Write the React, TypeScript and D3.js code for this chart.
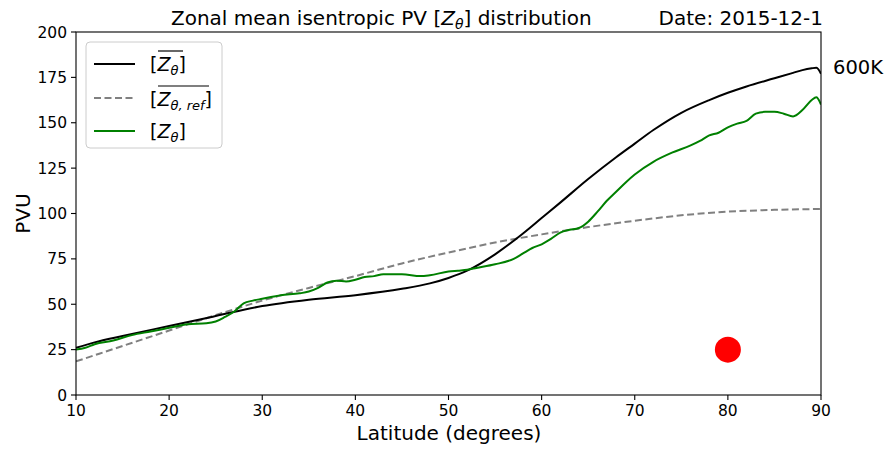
import React from "react";
import * as d3 from "d3";

const latMean = [10, 12, 15, 20, 25, 30, 35, 40, 45, 48, 50, 52, 55, 58, 60, 62, 65, 68, 70, 72, 75, 78, 80, 82, 85, 87, 88, 89, 89.5, 90];
const zMean = [26, 29, 32.5, 38, 43.5, 49, 52.5, 55, 58.5, 61.5, 64.5, 68.5, 77.5, 89, 97.5, 106, 119, 131, 138.5, 146, 155.5, 162.5, 166.5, 170, 174.5, 177.5, 179, 180, 180.3, 177];

const latRef = [10, 15, 20, 25, 30, 35, 40, 45, 50, 55, 60, 65, 70, 75, 80, 85, 90];
const zRef = [18.5, 27, 35.5, 44, 52, 59, 65.5, 72.5, 78.5, 84, 88.5, 92.5, 96, 99, 101, 102, 102.5];

const latObs = [10, 11, 12, 14, 16, 18, 20, 22, 24, 25, 26, 27, 28, 29, 30, 32, 34, 35, 36, 37, 38, 39, 40, 41, 42, 43, 45, 47, 48, 50, 51, 52, 53, 55, 57, 58, 59, 60, 61, 62, 63, 64, 65, 66, 67, 68, 69, 70, 72, 74, 76, 77, 78, 79, 80, 81, 82, 83, 84, 85, 86, 87, 88, 89, 89.5, 90];
const zObs = [25, 26, 28, 30, 33, 35, 37, 39, 39.5, 40.5, 43, 46, 50.5, 52, 53, 55, 56, 57, 59, 62, 63, 62.5, 63.5, 65, 65.5, 66.5, 66.5, 65.5, 66, 68, 68.5, 69, 70, 72, 75, 78, 81, 83, 86, 89.5, 91, 92, 95.5, 101, 107, 112, 117, 121.5, 128.5, 133.5, 137.5, 140, 143, 144.5, 147.5, 149.5, 151, 155, 156, 156, 155, 153.5, 157, 162.5, 164, 160];

const xTicks = [10, 20, 30, 40, 50, 60, 70, 80, 90];
const yTicks = [0, 25, 50, 75, 100, 125, 150, 175, 200];
const dot = { lat: 80, value: 25 };

const W = 886, H = 450;
const M = { left: 76, right: 821, top: 32, bottom: 395 };
const FONT = "DejaVu Sans, sans-serif";

export default function App() {
  const x = d3.scaleLinear().domain([10, 90]).range([M.left, M.right]);
  const y = d3.scaleLinear().domain([0, 200]).range([M.bottom, M.top]);
  const line = d3.line<[number, number]>().x(d => x(d[0])).y(d => y(d[1])).curve(d3.curveMonotoneX);
  const mk = (a: number[], b: number[]) => a.map((v, i) => [v, b[i]] as [number, number]);

  return (
    <svg width={W} height={H} style={{ position: "absolute", left: 0, top: 0, background: "#fff" }} fontFamily={FONT}>
      <defs>
        <clipPath id="plot">
          <rect x={M.left} y={M.top} width={M.right - M.left} height={M.bottom - M.top} />
        </clipPath>
      </defs>
      <g clipPath="url(#plot)" fill="none">
        <path d={line(mk(latRef, zRef)) || ""} stroke="#808080" strokeWidth={2} strokeDasharray="7,3.5" />
        <path d={line(mk(latMean, zMean)) || ""} stroke="#000" strokeWidth={2} />
        <path d={line(mk(latObs, zObs)) || ""} stroke="#008000" strokeWidth={2} />
        <circle cx={x(dot.lat)} cy={y(dot.value)} r={13} fill="#ff0000" />
      </g>
      <rect x={M.left} y={M.top} width={M.right - M.left} height={M.bottom - M.top} fill="none" stroke="#000" strokeWidth={1.1} />
      {xTicks.map(t => (
        <g key={"x" + t}>
          <line x1={x(t)} x2={x(t)} y1={M.bottom} y2={M.bottom + 5} stroke="#000" strokeWidth={1.1} />
          <text x={x(t)} y={M.bottom + 21} fontSize={15.5} textAnchor="middle">{t}</text>
        </g>
      ))}
      {yTicks.map(t => (
        <g key={"y" + t}>
          <line x1={M.left - 5} x2={M.left} y1={y(t)} y2={y(t)} stroke="#000" strokeWidth={1.1} />
          <text x={M.left - 9} y={y(t) + 5.5} fontSize={15.5} textAnchor="end">{t}</text>
        </g>
      ))}
      <text x={449} y={440} fontSize={20} textAnchor="middle">Latitude (degrees)</text>
      <text transform={`translate(30,${(M.top + M.bottom) / 2}) rotate(-90)`} fontSize={20} textAnchor="middle">PVU</text>
      <text x={171} y={25} fontSize={20}>Zonal mean isentropic PV [<tspan fontStyle="italic">Z</tspan><tspan fontSize={14} dy={4} fontStyle="italic">θ</tspan><tspan dy={-4}>] distribution</tspan></text>
      <text x={823} y={25} fontSize={20} textAnchor="end">Date: 2015-12-1</text>
      <text x={833} y={74} fontSize={19.5}>600K</text>

      <g>
        <rect x={86} y={42} width={136} height={106} rx={4} fill="#fff" fillOpacity={0.8} stroke="#cccccc" strokeWidth={1} />
        <line x1={94} x2={135} y1={64} y2={64} stroke="#000" strokeWidth={2} />
        <line x1={94} x2={135} y1={98} y2={98} stroke="#808080" strokeWidth={2} strokeDasharray="7,3.5" />
        <line x1={94} x2={135} y1={131} y2={131} stroke="#008000" strokeWidth={2} />
        <text x={150} y={71} fontSize={19}>[<tspan fontStyle="italic">Z</tspan><tspan fontSize={13} dy={4} fontStyle="italic">θ</tspan><tspan dy={-4}>]</tspan></text>
        <line x1={158} x2={183} y1={51} y2={51} stroke="#000" strokeWidth={1.2} />
        <text x={150} y={106} fontSize={19}>[<tspan fontStyle="italic">Z</tspan><tspan fontSize={13} dy={4} fontStyle="italic">θ, ref</tspan><tspan dy={-4}>]</tspan></text>
        <line x1={158} x2={209} y1={86} y2={86} stroke="#000" strokeWidth={1.2} />
        <text x={150} y={138} fontSize={19}>[<tspan fontStyle="italic">Z</tspan><tspan fontSize={13} dy={4} fontStyle="italic">θ</tspan><tspan dy={-4}>]</tspan></text>
      </g>
    </svg>
  );
}
